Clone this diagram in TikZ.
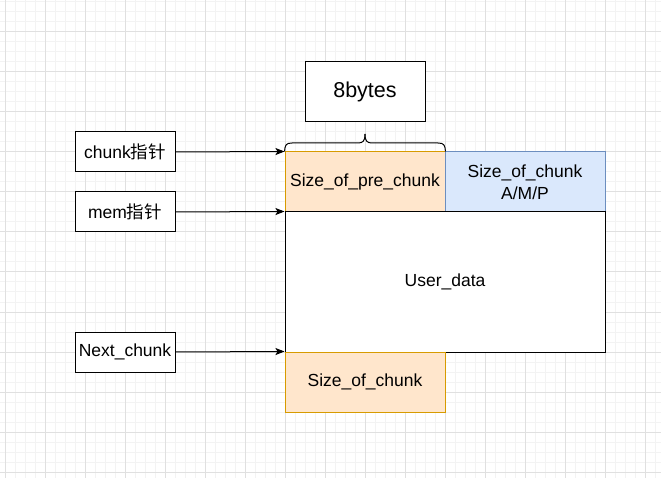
\documentclass[tikz,border=0pt]{standalone}
\usepackage{fontspec}
\setmainfont{Liberation Sans}
\newfontfamily\cjk{Noto Sans CJK SC}
\usetikzlibrary{arrows.meta}
\definecolor{gridminor}{HTML}{F3F3F3}
\definecolor{gridmajor}{HTML}{E0E0E0}
\definecolor{orfill}{HTML}{FFE6CC}
\definecolor{orline}{HTML}{D79B00}
\definecolor{blfill}{HTML}{DAE8FC}
\definecolor{blline}{HTML}{6C8EBF}
\tikzset{
  lbl/.style={font=\fontsize{17.5}{21.5}\selectfont, text=black, align=center, inner sep=0pt},
  ptrbox/.style={lbl, draw=black, fill=white, line width=1pt, minimum width=100, minimum height=40},
  orbox/.style={lbl, draw=orline, fill=orfill, line width=1pt, minimum width=160, minimum height=60},
  blbox/.style={lbl, draw=blline, fill=blfill, line width=1pt, minimum width=160, minimum height=60},
  whbox/.style={lbl, draw=black, fill=white, line width=1pt},
  arr/.style={line width=1pt, -{Stealth[length=9pt,width=7pt,inset=2pt]}},
}
\begin{document}
\begin{tikzpicture}[x=1pt,y=-1pt]
\useasboundingbox (0,0) rectangle (661,478);
\fill[white] (0,0) rectangle (661,478);
% grid
\foreach \i in {-5,5,...,665} \draw[gridminor, line width=1pt] (\i,0) -- (\i,478);
\foreach \j in {2,12,...,482} \draw[gridminor, line width=1pt] (0,\j) -- (661,\j);
\foreach \i in {5,45,...,665} \draw[gridmajor, line width=1pt] (\i,0) -- (\i,478);
\foreach \j in {-8,32,...,482} \draw[gridmajor, line width=1pt] (0,\j) -- (661,\j);
% boxes
\node[whbox, minimum width=120, minimum height=60, font=\fontsize{21.5}{24}\selectfont] (bytes) at (365,92) {8bytes};
\node[orbox] (pre) at (365,182) {Size\_of\_pre\_chunk};
\node[blbox] (sz) at (525,182) {Size\_of\_chunk\\A/M/P};
\node[whbox, minimum width=320, minimum height=140] (ud) at (445,282) {User\_data};
\node[orbox] (nsz) at (365,382) {Size\_of\_chunk};
\node[ptrbox] (chunk) at (125,152) {chunk{\cjk 指针}};
\node[ptrbox] (mem) at (125,212) {mem{\cjk 指针}};
\node[ptrbox] (next) at (125,352) {Next\_chunk};
% brace
\coordinate (bl) at (pre.north west);
\coordinate (br) at (pre.north east);
\coordinate (bt) at (365,134);
\draw[line width=1pt] (bl) .. controls (285,145) and (286,143) .. (292,143) -- (358,143) .. controls (363,143) and (365,141) .. (bt);
\draw[line width=1pt] (bt) .. controls (365,141) and (367,143) .. (372,143) -- (438,143) .. controls (444,143) and (445,145) .. (br);
% arrows
\draw[arr] (chunk.east) -- (pre.north west);
\draw[arr] (mem.east) -- (ud.north west);
\draw[arr] (next.east) -- (nsz.north west);
\end{tikzpicture}
\end{document}
